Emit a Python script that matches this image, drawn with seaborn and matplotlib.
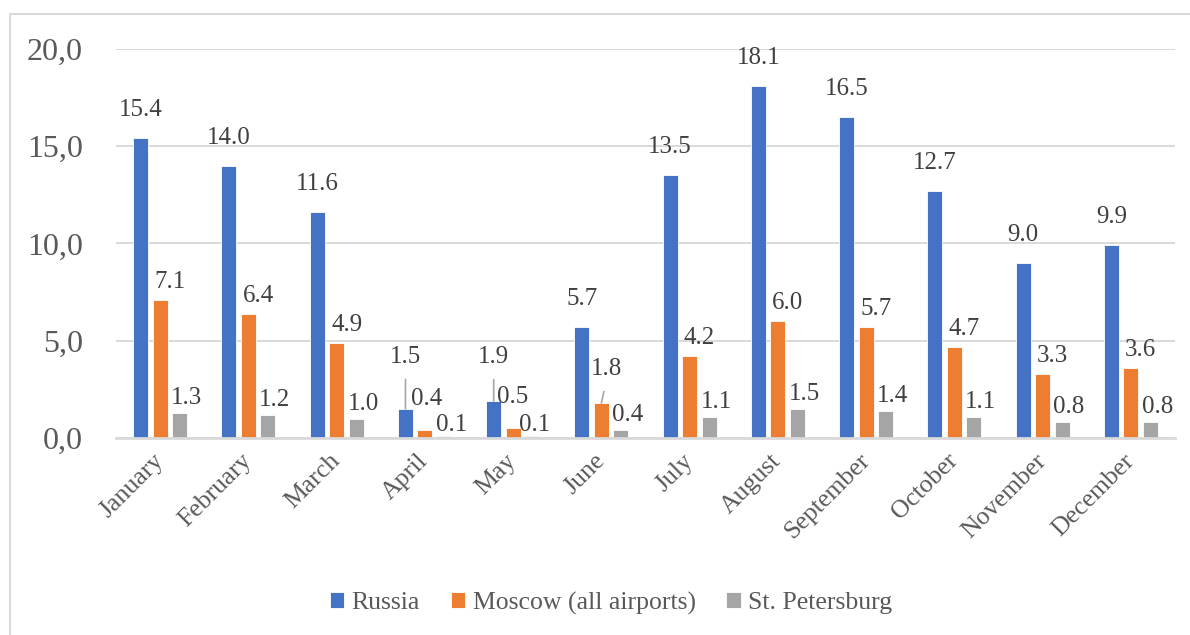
import matplotlib
matplotlib.use("Agg")
import matplotlib.pyplot as plt
from matplotlib.patches import Rectangle
from matplotlib.ticker import FixedLocator, FuncFormatter
import seaborn as sns
import pandas as pd

# ---- data -------------------------------------------------------------
months = ["January", "February", "March", "April", "May", "June", "July",
          "August", "September", "October", "November", "December"]
series_names = ["Russia", "Moscow (all airports)", "St. Petersburg"]
russia = [15.4, 14.0, 11.6, 1.5, 1.9, 5.7, 13.5, 18.1, 16.5, 12.7, 9.0, 9.9]
moscow = [7.1, 6.4, 4.9, 0.4, 0.5, 1.8, 4.2, 6.0, 5.7, 4.7, 3.3, 3.6]
spb = [1.3, 1.2, 1.0, 0.1, 0.1, 0.4, 1.1, 1.5, 1.4, 1.1, 0.8, 0.8]
y_ticks = [0, 5, 10, 15, 20]

colors = ["#4472C4", "#ED7D31", "#A5A5A5"]

df = pd.DataFrame({
    "month": months * 3,
    "series": [s for s in series_names for _ in months],
    "value": russia + moscow + spb,
})

# ---- style ------------------------------------------------------------
sns.set_style("white")
plt.rcParams["font.family"] = ["Liberation Serif", "DejaVu Serif"]
TEXT = "#595959"
LABEL = "#404040"
GRID = "#D9D9D9"
VAL_SIZE = 18
CAT_SIZE = 18.5

fig = plt.figure(figsize=(11.9, 6.35), dpi=100)
ax = fig.add_axes([116 / 1190, 1 - 438 / 635, (1175 - 116) / 1190, (438 - 49) / 635])

sns.barplot(data=df, x="month", y="value", hue="series", order=months,
            hue_order=series_names, palette=colors, saturation=1,
            width=0.66, gap=0.23, edgecolor="white", linewidth=0.6,
            errorbar=None, legend=False, ax=ax)

ax.set_xlim(-0.5, len(months) - 0.5)
ax.set_ylim(y_ticks[0], y_ticks[-1])
ax.yaxis.set_major_locator(FixedLocator(y_ticks))
ax.yaxis.set_major_formatter(FuncFormatter(lambda v, p: f"{v:.1f}".replace(".", ",")))
ax.grid(axis="y", color=GRID, linewidth=1.4)
ax.set_axisbelow(True)
for side in ("left", "right", "top"):
    ax.spines[side].set_visible(False)
ax.spines["bottom"].set_color(GRID)
ax.spines["bottom"].set_linewidth(2)
ax.set_xlabel("")
ax.set_ylabel("")
ax.tick_params(axis="y", length=0, pad=24, labelsize=23, labelcolor=TEXT)
ax.tick_params(axis="x", length=0, pad=14, labelsize=CAT_SIZE, labelcolor=TEXT)
for lab in ax.get_xticklabels():
    lab.set_rotation(45)
    lab.set_ha("right")
    lab.set_va("center")
    lab.set_rotation_mode("anchor")

# ---- value labels -----------------------------------------------------
# default label offsets (pixels) per series, plus a few nudged labels
default_offset = {0: (0, 17), 1: (10, 7), 2: (7, 4)}
nudged = {
    (0, 3): (0, 41, True),
    (0, 4): (0, 33, True),
    (1, 3): (2, 20, False),
    (1, 4): (0, 20, False),
    (1, 5): (5, 23, True),
    (2, 3): (7, 0, False),
    (2, 4): (2, 0, False),
}
for si, cont in enumerate(ax.containers):
    for mi, bar in enumerate(cont.patches):
        h = bar.get_height()
        cx = bar.get_x() + bar.get_width() / 2
        dx, dy = default_offset[si]
        leader = False
        if (si, mi) in nudged:
            dx, dy, leader = nudged[(si, mi)]
        kw = {}
        if leader:
            kw["arrowprops"] = dict(arrowstyle="-", color="#A6A6A6", lw=1.2,
                                    shrinkA=6, shrinkB=0, relpos=(0.5, 0))
        ax.annotate(f"{h:.1f}", xy=(cx, h), xytext=(dx, dy),
                    textcoords="offset pixels", ha="center", va="bottom",
                    fontsize=VAL_SIZE, color=LABEL, **kw)

# ---- legend -----------------------------------------------------------
fig.legend(ax.containers, series_names, loc="center",
           bbox_to_anchor=(611 / 1190, 1 - 603 / 635), ncol=3, frameon=False,
           fontsize=CAT_SIZE, labelcolor=TEXT, handlelength=0.55, handleheight=0.55,
           handletextpad=0.3, columnspacing=1.2)

# chart-area frame
fig.patches.append(Rectangle((10 / 1190, -0.2), 1.2, 1.2 - 14 / 635,
                             transform=fig.transFigure, fill=False,
                             edgecolor=GRID, linewidth=1.5))

fig.savefig("out.png", dpi=100)
